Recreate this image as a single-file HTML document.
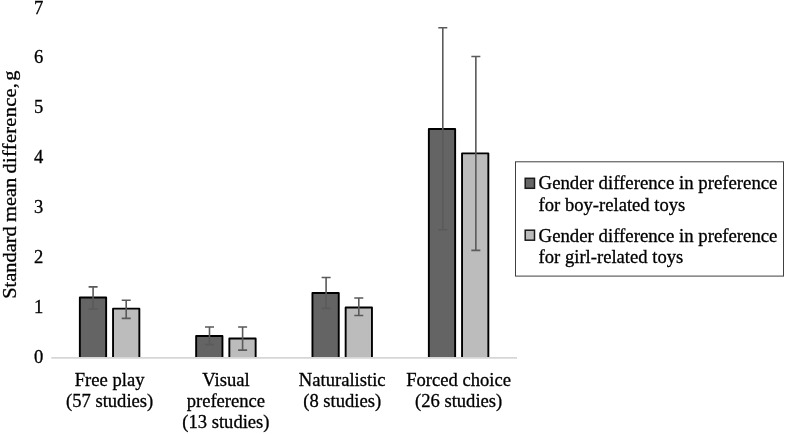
<!DOCTYPE html>
<html><head><meta charset="utf-8"><title>Chart</title>
<style>
html,body{margin:0;padding:0;background:#fff;}
body{width:785px;height:434px;position:relative;overflow:hidden;}
svg{position:absolute;left:0;top:0;display:block}
text{font-family:"Liberation Serif",serif;fill:#000;stroke:#000;stroke-width:0.3px;}
</style></head><body>
<svg width="785" height="434" viewBox="0 0 785 434">
<path d="M79.85 358.10V297.45H106.15V358.10" fill="#646464" stroke="#000" stroke-width="1.9" stroke-linejoin="round"/>
<path d="M88.60 286.85H97.60M88.60 308.95H97.60M93.10 286.85V308.95" stroke="#5a5a5a" stroke-width="1.6" fill="none"/>
<path d="M113.05 358.10V308.65H139.35V358.10" fill="#bcbcbc" stroke="#000" stroke-width="1.9" stroke-linejoin="round"/>
<path d="M121.70 300.25H130.70M121.70 318.40H130.70M126.20 300.25V318.40" stroke="#5a5a5a" stroke-width="1.6" fill="none"/>
<path d="M196.15 358.10V335.95H222.45V358.10" fill="#646464" stroke="#000" stroke-width="1.9" stroke-linejoin="round"/>
<path d="M205.00 326.95H214.00M205.00 344.60H214.00M209.50 326.95V344.60" stroke="#5a5a5a" stroke-width="1.6" fill="none"/>
<path d="M229.35 358.10V338.55H255.65V358.10" fill="#bcbcbc" stroke="#000" stroke-width="1.9" stroke-linejoin="round"/>
<path d="M238.10 326.95H247.10M238.10 350.10H247.10M242.60 326.95V350.10" stroke="#5a5a5a" stroke-width="1.6" fill="none"/>
<path d="M312.45 358.10V292.95H338.75V358.10" fill="#646464" stroke="#000" stroke-width="1.9" stroke-linejoin="round"/>
<path d="M321.60 277.50H330.60M321.60 308.40H330.60M326.10 277.50V308.40" stroke="#5a5a5a" stroke-width="1.6" fill="none"/>
<path d="M345.65 358.10V307.45H371.95V358.10" fill="#bcbcbc" stroke="#000" stroke-width="1.9" stroke-linejoin="round"/>
<path d="M354.30 298.00H363.30M354.30 315.50H363.30M358.80 298.00V315.50" stroke="#5a5a5a" stroke-width="1.6" fill="none"/>
<path d="M428.85 358.10V129.05H455.15V358.10" fill="#646464" stroke="#000" stroke-width="1.9" stroke-linejoin="round"/>
<path d="M438.30 27.80H447.30M438.30 229.70H447.30M442.80 27.80V229.70" stroke="#5a5a5a" stroke-width="1.6" fill="none"/>
<path d="M462.05 358.10V153.35H488.35V358.10" fill="#bcbcbc" stroke="#000" stroke-width="1.9" stroke-linejoin="round"/>
<path d="M471.35 56.55H480.35M471.35 250.40H480.35M475.85 56.55V250.40" stroke="#5a5a5a" stroke-width="1.6" fill="none"/>
<line x1="51.3" y1="357.9" x2="517" y2="357.9" stroke="#d6d6d6" stroke-width="1.7"/>
<text transform="translate(38.60 362.50) scale(1.0000 1)" font-size="18.60" text-anchor="middle">0</text>
<text transform="translate(38.60 312.65) scale(1.0000 1)" font-size="18.60" text-anchor="middle">1</text>
<text transform="translate(38.60 262.80) scale(1.0000 1)" font-size="18.60" text-anchor="middle">2</text>
<text transform="translate(38.60 212.95) scale(1.0000 1)" font-size="18.60" text-anchor="middle">3</text>
<text transform="translate(38.60 163.10) scale(1.0000 1)" font-size="18.60" text-anchor="middle">4</text>
<text transform="translate(38.60 113.25) scale(1.0000 1)" font-size="18.60" text-anchor="middle">5</text>
<text transform="translate(38.60 63.40) scale(1.0000 1)" font-size="18.60" text-anchor="middle">6</text>
<text transform="translate(38.60 13.55) scale(1.0000 1)" font-size="18.60" text-anchor="middle">7</text>
<text transform="translate(109.60 385.60) scale(1.0060 1)" font-size="18.50" text-anchor="middle">Free play</text>
<text transform="translate(109.60 407.00) scale(1.0060 1)" font-size="18.50" text-anchor="middle">(57 studies)</text>
<text transform="translate(225.90 385.60) scale(1.0060 1)" font-size="18.50" text-anchor="middle">Visual</text>
<text transform="translate(225.90 407.00) scale(1.0060 1)" font-size="18.50" text-anchor="middle">preference</text>
<text transform="translate(225.90 428.40) scale(1.0060 1)" font-size="18.50" text-anchor="middle">(13 studies)</text>
<text transform="translate(342.20 385.60) scale(1.0060 1)" font-size="18.50" text-anchor="middle">Naturalistic</text>
<text transform="translate(342.20 407.00) scale(1.0060 1)" font-size="18.50" text-anchor="middle">(8 studies)</text>
<text transform="translate(458.60 385.60) scale(1.0060 1)" font-size="18.50" text-anchor="middle">Forced choice</text>
<text transform="translate(458.60 407.00) scale(1.0060 1)" font-size="18.50" text-anchor="middle">(26 studies)</text>
<text transform="translate(16.30 298.80) rotate(-90) scale(1.0480 1)" font-size="19.50" text-anchor="start" word-spacing="-0.8">Standard mean <tspan letter-spacing="0.27">difference,</tspan> <tspan dx="-2.1">g</tspan></text>
<rect x="515.5" y="161.8" width="268" height="114.3" fill="#fff" stroke="#404040" stroke-width="1"/>
<rect x="525.2" y="178.3" width="9.3" height="10" fill="#666" stroke="#1a1a1a" stroke-width="1.5"/>
<rect x="525.2" y="230.2" width="9.3" height="10" fill="#bcbcbc" stroke="#1a1a1a" stroke-width="1.5"/>
<text transform="translate(538.60 188.70) scale(1.0160 1)" font-size="18.50" text-anchor="start">Gender difference in preference</text>
<text transform="translate(538.60 210.50) scale(1.0060 1)" font-size="18.50" text-anchor="start">for boy-related toys</text>
<text transform="translate(538.60 241.70) scale(1.0160 1)" font-size="18.50" text-anchor="start">Gender difference in preference</text>
<text transform="translate(538.60 263.10) scale(1.0060 1)" font-size="18.50" text-anchor="start">for girl-related toys</text>
</svg>
</body></html>
